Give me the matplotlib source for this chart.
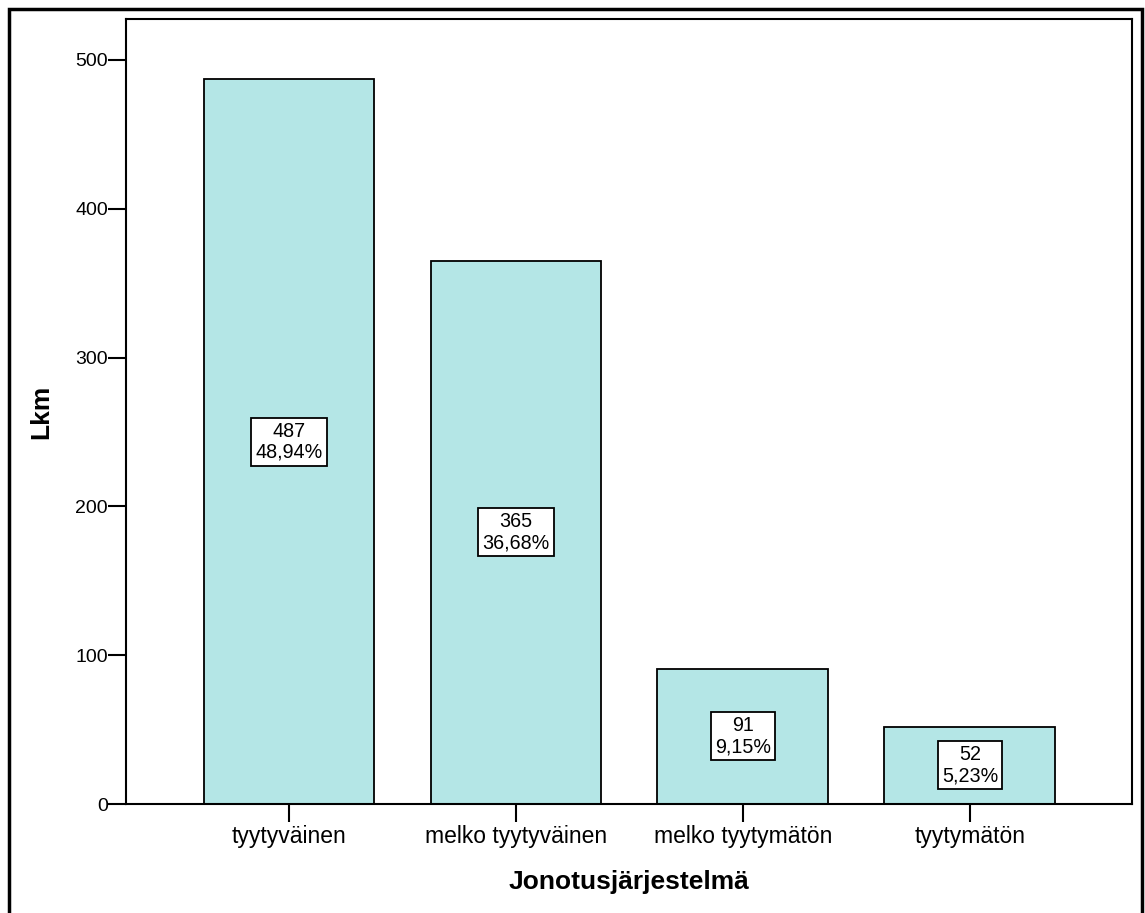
import matplotlib
matplotlib.use("Agg")
import matplotlib.pyplot as plt
from matplotlib.patches import Rectangle

categories = ["tyytyväinen", "melko tyytyväinen", "melko tyytymätön", "tyytymätön"]
counts = [487, 365, 91, 52]
percents = ["48,94%", "36,68%", "9,15%", "5,23%"]

plt.rcParams['font.family'] = ['Liberation Sans', 'DejaVu Sans']

W, H = 1145, 913
fig = plt.figure(figsize=(W / 100, H / 100), dpi=100)
ax = fig.add_axes([126 / W, 1 - 804 / H, (1132 - 126) / W, (804 - 19) / H])

x = range(len(categories))
ax.bar(x, counts, width=0.753, color="#b4e6e6", edgecolor="black", linewidth=1.3)

for i, (c, p) in enumerate(zip(counts, percents)):
    ax.text(i, c / 2, f"{c}\n{p}", ha="center", va="center", fontsize=14.2,
            linespacing=1.15,
            bbox=dict(boxstyle="square,pad=0.2", fc="white", ec="black", lw=1.3))

ax.set_xlim(-0.718, 3.714)
ax.set_ylim(0, 527.5)
ax.set_xticks(list(x))
ax.set_xticklabels(categories, fontsize=16.5)
ax.set_yticks([0, 100, 200, 300, 400, 500])
ax.tick_params(axis="y", labelsize=14, length=13, width=1.5, pad=0)
ax.tick_params(axis="x", length=13, width=1.5, pad=2)
for s in ax.spines.values():
    s.set_linewidth(1.5)

ax.set_ylabel("Lkm", fontsize=19, fontweight="bold", labelpad=16)
ax.set_xlabel("Jonotusjärjestelmä", fontsize=19, fontweight="bold", labelpad=16)

# outer frame around the whole figure
fig.patches.append(Rectangle((9 / W, -0.01), (1142 - 9) / W, 1 - 9 / H + 0.01,
                             transform=fig.transFigure, fill=False,
                             ec="black", lw=2.5))

fig.savefig("out.png", dpi=100)
